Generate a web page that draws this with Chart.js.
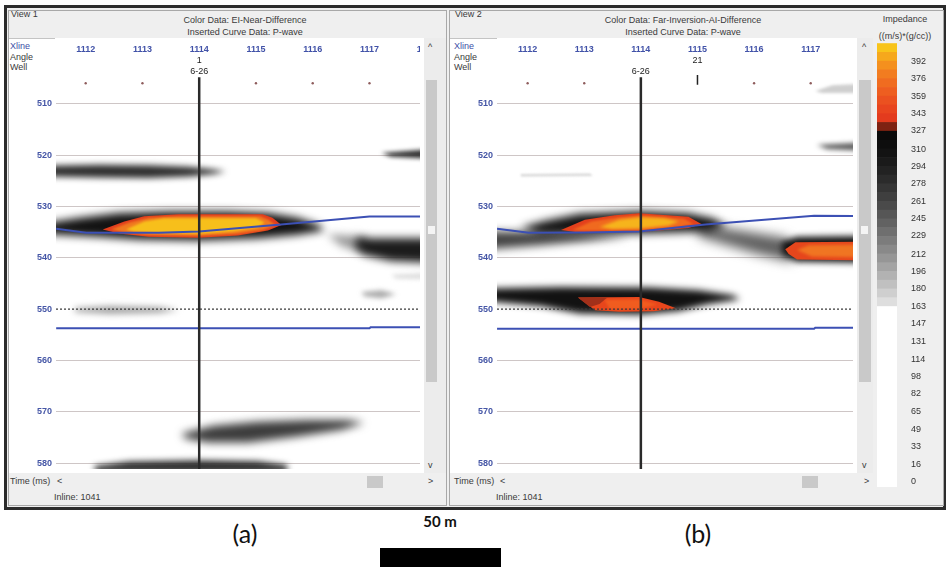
<!DOCTYPE html>
<html>
<head>
<meta charset="utf-8">
<title>Impedance difference sections</title>
<script src="https://cdn.jsdelivr.net/npm/chart.js@4.4.1/dist/chart.umd.min.js"></script>
<style>
  body { margin: 0; width: 951px; height: 567px; background: #fff; position: relative; overflow: hidden;
         font-family: "Liberation Sans", Arial, sans-serif; }
  .box { position: absolute; box-sizing: border-box; }
  .ui { position: absolute; font-size: 9px; line-height: 11px; color: #3a3a3a; white-space: nowrap; }
  .c { text-align: center; }
  .blue { color: #3e4fa6; }
  canvas { position: absolute; }
  .cap { position: absolute; font-family: Lato, "Open Sans", sans-serif; color: #111; }
</style>
</head>
<body>
<!-- window frame -->
<div class="box" style="left:4px;top:5px;width:942px;height:505px;border:3px solid #2c2c2c;background:#efefef"></div>
<div class="box" style="left:8px;top:10px;width:439px;height:496px;border:1px solid #a8a8a8"></div>
<div class="box" style="left:449px;top:10px;width:495px;height:496px;border:1px solid #a8a8a8"></div>

<!-- view 1 -->
<div class="box" style="left:9px;top:38px;width:415px;height:435px;background:#fff"></div>
<div class="box" style="left:9px;top:38px;width:46px;height:1px;background:#c4c4c4"></div>
<div class="box" style="left:424px;top:38px;width:22px;height:435px;background:#ececec"></div>
<div class="box" style="left:426px;top:80px;width:11px;height:302px;background:#c9c9c9"></div>
<div class="box" style="left:428px;top:226px;width:7px;height:8px;background:#f4f4f4"></div>
<div class="box" style="left:367px;top:476px;width:16px;height:12px;background:#c9c9c9"></div>
<div class="ui" style="left:11px;top:8.5px">View 1</div>
<div class="ui c" style="left:145px;top:14.5px;width:200px">Color Data: EI-Near-Difference</div>
<div class="ui c" style="left:145px;top:26.5px;width:200px">Inserted Curve Data: P-wave</div>
<div class="ui blue" style="left:10px;top:40.5px">Xline</div>
<div class="ui" style="left:10px;top:51.5px">Angle</div>
<div class="ui" style="left:10px;top:61.5px">Well</div>
<div class="ui" style="left:428px;top:42px">^</div>
<div class="ui" style="left:428px;top:460px">v</div>
<div class="ui" style="left:10px;top:476px">Time (ms)</div>
<div class="ui" style="left:57px;top:476px">&lt;</div>
<div class="ui" style="left:428px;top:476px">&gt;</div>
<div class="ui" style="left:54px;top:491.5px">Inline: 1041</div>
<canvas id="viewA" width="408" height="435" style="left:16px;top:38px"></canvas>

<!-- view 2 -->
<div class="box" style="left:450px;top:38px;width:407px;height:435px;background:#fff"></div>
<div class="box" style="left:450px;top:38px;width:47px;height:1px;background:#c4c4c4"></div>
<div class="box" style="left:857px;top:38px;width:16px;height:435px;background:#ececec"></div>
<div class="box" style="left:859px;top:80px;width:12px;height:302px;background:#c9c9c9"></div>
<div class="box" style="left:861px;top:226px;width:7px;height:8px;background:#f4f4f4"></div>
<div class="box" style="left:802px;top:476px;width:16px;height:12px;background:#c9c9c9"></div>
<div class="ui" style="left:455px;top:8.5px">View 2</div>
<div class="ui c" style="left:583px;top:14.5px;width:200px">Color Data: Far-Inversion-AI-Difference</div>
<div class="ui c" style="left:583px;top:26.5px;width:200px">Inserted Curve Data: P-wave</div>
<div class="ui blue" style="left:454px;top:40.5px">Xline</div>
<div class="ui" style="left:454px;top:51.5px">Angle</div>
<div class="ui" style="left:454px;top:61.5px">Well</div>
<div class="ui" style="left:862px;top:42px">^</div>
<div class="ui" style="left:862px;top:460px">v</div>
<div class="ui" style="left:454px;top:476px">Time (ms)</div>
<div class="ui" style="left:500px;top:476px">&lt;</div>
<div class="ui" style="left:864px;top:476px">&gt;</div>
<div class="ui" style="left:496px;top:491.5px">Inline: 1041</div>
<canvas id="viewB" width="400" height="435" style="left:457px;top:38px"></canvas>

<!-- colour scale -->
<div class="ui c" style="left:865px;top:14px;width:80px">Impedance</div>
<div class="ui c" style="left:865px;top:30.5px;width:80px">((m/s)*(g/cc))</div>
<canvas id="scaleBar" width="50" height="444" style="left:877px;top:43px"></canvas>

<!-- captions -->
<div class="cap" style="left:205px;top:518px;width:80px;text-align:center;font-size:25px">(a)</div>
<div class="cap" style="left:658px;top:518px;width:80px;text-align:center;font-size:25px">(b)</div>
<div class="cap" style="left:400px;top:512px;width:80px;text-align:center;font-size:15px;font-weight:bold">50 m</div>
<div class="box" style="left:380px;top:548px;width:121px;height:19px;background:#000"></div>

<script>
Chart.defaults.font.family = '"Liberation Sans", Arial, sans-serif';

// axes
const timeTicks = [510, 520, 530, 540, 550, 560, 570, 580];
const xlineTicks = [1112, 1113, 1114, 1115, 1116, 1117, 1118];
const traceDotsA = [1112, 1113, 1115, 1116, 1117];
const traceDotsB = [1112, 1113, 1116, 1117];
const wellXline = 1114;
const wellName = '6-26';
const wellTopTime = 504.8;
const xlineRowTime = 499.5, angleRowTime = 501.6, wellRowTime = 503.7, dotRowTime = 506;

// horizons picked on both views (xline, ms)
const a_horizonTop = [[1111.48, 534.34], [1112.01, 535.1], [1113.29, 535.1], [1114.0, 534.86], [1115.44, 533.52], [1117.0, 531.93], [1117.9, 531.93]];
const a_horizonBase = [[1111.48, 553.7], [1117.0, 553.7], [1117.02, 553.5], [1117.9, 553.5]];
const b_horizonTop = [[1111.46, 534.34], [1112.02, 535.1], [1113.0, 535.05], [1113.97, 534.86], [1115.14, 533.52], [1117.06, 531.8], [1117.75, 531.85]];
const b_horizonBase = [[1111.46, 553.8], [1117.06, 553.8], [1117.08, 553.6], [1117.75, 553.6]];

// view 1 anomalies, outlines in (xline, ms)
const a_band523 = [[1111.3, 522.05], [1112.24, 521.85], [1113.11, 521.95], [1113.81, 522.24], [1114.25, 522.81], [1114.47, 523.19],
  [1114.25, 523.67], [1113.81, 524.15], [1113.11, 524.44], [1112.24, 524.34], [1111.3, 524.15]];
const a_mainHalo = [[1111.3, 533.2], [1111.9, 532.2], [1112.59, 531.25], [1113.46, 530.95], [1114.51, 530.95], [1115.21, 531.25],
  [1115.73, 532.2], [1116.11, 533.6], [1116.2, 534.66], [1115.73, 535.5], [1115.03, 536.2], [1113.99, 536.6],
  [1112.94, 536.4], [1112.24, 535.9], [1111.3, 535.35]];
const a_mainRed = [[1112.3, 534.47], [1112.68, 532.94], [1113.03, 531.89], [1113.64, 531.51], [1115.12, 531.51], [1115.29, 532.18],
  [1115.45, 533.61], [1115.21, 534.66], [1114.68, 535.62], [1113.99, 536.1], [1113.11, 535.91], [1112.59, 535.24]];
const a_mainOrange = [[1112.45, 534.47], [1112.77, 533.13], [1113.11, 532.18], [1113.64, 531.89], [1115.07, 531.89], [1115.22, 532.56],
  [1115.34, 533.61], [1115.12, 534.57], [1114.65, 535.33], [1113.99, 535.72], [1113.11, 535.53], [1112.68, 535.05]];
const a_mainYellow = [[1112.71, 534.47], [1113.03, 532.94], [1113.38, 532.27], [1115.0, 532.27], [1115.15, 533.13], [1115.03, 534.09],
  [1114.6, 534.86], [1113.99, 535.33], [1113.2, 535.14], [1112.85, 534.86]];
const a_eastTail = [[1116.25, 535.43], [1116.95, 535.81], [1116.95, 539.25], [1116.51, 537.72]];
const a_eastCore = [[1116.77, 536.19], [1118.1, 536.19], [1118.1, 540.97], [1117.38, 540.59], [1116.91, 539.44], [1116.74, 537.72]];
const a_east519 = [[1117.21, 519.56], [1118.1, 518.8], [1118.1, 520.71], [1117.38, 520.32]];
const a_spot547 = [[1116.86, 546.71], [1117.21, 546.33], [1117.47, 547.09], [1117.21, 547.86], [1116.91, 547.48]];
const a_spot543 = [[1117.38, 543.27], [1118.1, 542.89], [1118.1, 544.22], [1117.47, 544.03]];
const a_smear550 = [[1111.81, 549.77], [1112.42, 549.39], [1113.29, 549.58], [1113.64, 550.15], [1113.29, 550.73], [1112.42, 550.92], [1111.81, 550.54]];
const a_band574 = [[1113.69, 574.24], [1114.25, 572.71], [1115.03, 571.95], [1115.9, 571.57], [1116.6, 571.57], [1116.91, 572.14],
  [1116.51, 573.48], [1115.73, 574.82], [1114.86, 575.96], [1114.16, 575.96], [1113.76, 575.2]];
const a_band580 = [[1112.16, 580.55], [1112.77, 579.69], [1113.99, 579.41], [1115.03, 579.6], [1115.55, 580.36], [1115.55, 581.7], [1112.16, 581.7]];

// view 2 anomalies
const b_mainHalo = [[1111.88, 534.09], [1112.31, 532.75], [1112.92, 531.41], [1113.97, 530.94], [1114.84, 531.32], [1115.28, 532.37],
  [1115.51, 533.9], [1115.19, 534.86], [1113.97, 535.24], [1112.92, 535.43], [1112.23, 535.33]];
const b_westBand = [[1111.3, 534.86], [1112.23, 534.86], [1113.1, 535.43], [1113.8, 535.91], [1113.1, 536.67], [1112.23, 537.53], [1111.3, 538.3]];
const b_link = [[1115.02, 533.52], [1115.72, 534.66], [1116.59, 536.19], [1116.68, 540.78], [1116.07, 539.25], [1115.37, 536.96], [1115.02, 535.81]];
const b_mainRed = [[1112.59, 534.57], [1113.01, 532.56], [1113.54, 531.7], [1113.97, 531.32], [1114.84, 531.99], [1115.07, 533.42],
  [1114.84, 534.19], [1114.32, 534.66], [1113.97, 534.95], [1113.27, 535.05], [1112.84, 534.95]];
const b_mainOrange = [[1112.79, 534.57], [1113.13, 532.94], [1113.62, 532.08], [1113.97, 531.79], [1114.76, 532.37], [1114.93, 533.42],
  [1114.67, 533.99], [1113.97, 534.57], [1113.27, 534.66], [1112.96, 534.66]];
const b_mainYellow = [[1113.27, 533.99], [1113.62, 532.56], [1113.97, 532.08], [1114.41, 532.27], [1114.67, 532.94], [1114.49, 533.71],
  [1113.97, 534.28], [1113.49, 534.38]];
const b_eastHalo = [[1116.47, 536.96], [1116.76, 535.91], [1118.1, 535.72], [1118.1, 540.97], [1116.76, 540.78], [1116.5, 539.44]];
const b_eastRed = [[1116.55, 538.3], [1116.73, 536.96], [1118.1, 536.86], [1118.1, 540.5], [1116.76, 540.31], [1116.61, 539.25]];
const b_eastOrange = [[1116.76, 538.49], [1116.97, 537.53], [1118.1, 537.44], [1118.1, 539.92], [1117.02, 539.73]];
const b_lowHalo = [[1111.3, 545.95], [1112.58, 545.66], [1114.15, 545.75], [1115.02, 546.33], [1115.63, 547.28], [1115.75, 548.05],
  [1115.19, 549.01], [1114.67, 550.34], [1113.97, 551.01], [1112.92, 550.82], [1112.23, 549.39], [1111.3, 548.43]];
const b_lowRed = [[1112.89, 547.7], [1113.97, 547.6], [1114.32, 548.55], [1114.62, 549.8], [1114.23, 550.4], [1113.62, 550.5], [1113.19, 550.2]];
const b_lowDark = [[1112.89, 547.7], [1113.41, 547.7], [1113.27, 549.01], [1113.1, 549.58]];
const b_lowOrange = [[1113.36, 548.2], [1113.97, 548.1], [1114.29, 549.1], [1113.97, 549.95], [1113.45, 549.95]];
const b_east518 = [[1117.11, 518.03], [1118.1, 517.46], [1118.1, 519.18], [1117.29, 518.8]];
const b_streak524 = [[1111.88, 523.67], [1113.1, 523.58], [1113.15, 524.05], [1111.88, 524.15]];
const b_east507 = [[1117.08, 507.51], [1117.38, 506.37], [1118.1, 505.98], [1118.1, 507.9], [1117.2, 507.9]];
const b_angleTick = [[1115, 504.4], [1115, 506.3]];

// impedance colour scale
const impedanceLabels = [0, 16, 33, 49, 65, 82, 98, 114, 131, 147, 163, 180, 196, 212, 229, 245, 261, 278, 294, 310, 327, 343, 359, 376, 392];
const impedanceEdges = [-5, 163.3, 171.5, 179.6, 187.8, 196.0, 204.1, 212.3, 220.5, 228.6, 236.8, 245.0, 253.1, 261.3, 269.4, 277.6,
  285.8, 293.9, 302.1, 310.3, 318.4, 326.6, 334.8, 342.9, 351.1, 359.3, 367.4, 375.6, 383.8, 391.9, 400.1, 408.3];
const impedanceColors = ['#ffffff',
  '#dedede', '#cfcfcf', '#c0c0c0', '#b2b2b2', '#a4a4a4', '#969696', '#898989', '#7c7c7c', '#6f6f6f', '#626262',
  '#565656', '#4a4a4a', '#3f3f3f', '#353535', '#2b2b2b', '#222222', '#1a1a1a', '#131313', '#0e0e0e', '#0a0a0a',
  '#7e2212', '#e33b1e', '#e8451f', '#eb5120', '#ee5e20', '#f06c20', '#f27c20', '#f4901e', '#f6a81c', '#f8c41a'];

// layer lists: outline, fill, blur radius (px)
const view1Layers = [
  [a_band523, '#2e2e2e', 3],
  [a_smear550, '#a2a2a2', 3],
  [a_spot543, '#dddddd', 2],
  [a_spot547, '#aaaaaa', 2.5],
  [a_east519, '#333333', 2],
  [a_eastTail, '#9a9a9a', 4],
  [a_eastCore, '#1c1c1c', 4],
  [a_band574, '#3c3c3c', 4],
  [a_band580, '#2a2a2a', 3],
  [a_mainHalo, '#121212', 4.5],
  [a_mainRed, '#e23e1d', 0.6],
  [a_mainOrange, '#f07a20', 0.8],
  [a_mainYellow, '#f7bf1b', 1.2]
];
const view2Layers = [
  [b_east507, '#cfcfcf', 1.5],
  [b_streak524, '#d8d8d8', 1],
  [b_east518, '#555555', 2.5],
  [b_westBand, '#444444', 4.5],
  [b_link, '#5e5e5e', 6],
  [b_mainHalo, '#121212', 4],
  [b_eastHalo, '#121212', 3],
  [b_lowHalo, '#121212', 3.5],
  [b_mainRed, '#e4401c', 0.6],
  [b_mainOrange, '#f06a1f', 0.8],
  [b_mainYellow, '#f6b41c', 1.5],
  [b_eastRed, '#e6461c', 0.6],
  [b_eastOrange, '#f07522', 1.5],
  [b_lowRed, '#e8461c', 0.6],
  [b_lowDark, '#a2301a', 0.6],
  [b_lowOrange, '#f05c1f', 1]
];

const toPts = arr => arr.map(([x, y]) => ({ x, y }));

// fills each outline dataset with an optional gaussian blur, clipped to the section
const blobPaint = {
  id: 'blobPaint',
  beforeDatasetDraw(chart, args) {
    const ds = chart.data.datasets[args.index];
    if (!ds.paint) return;
    const { ctx, chartArea: a } = chart;
    const pts = args.meta.data;
    ctx.save();
    ctx.beginPath();
    ctx.rect(a.left, a.top, a.right - a.left, a.bottom - a.top);
    ctx.clip();
    ctx.filter = ds.blur ? 'blur(' + ds.blur + 'px)' : 'none';
    ctx.fillStyle = ds.paint;
    ctx.beginPath();
    pts.forEach((p, i) => (i ? ctx.lineTo(p.x, p.y) : ctx.moveTo(p.x, p.y)));
    ctx.closePath();
    ctx.fill();
    ctx.restore();
  }
};

// xline numbers, angle and well name rows along the top of a section
const headerRows = {
  id: 'headerRows',
  afterDatasetsDraw(chart, args, opts) {
    const { ctx, chartArea: a, scales: { x, y } } = chart;
    ctx.save();
    ctx.beginPath();
    ctx.rect(a.left, a.top, a.right - a.left, a.bottom - a.top);
    ctx.clip();
    ctx.textAlign = 'center';
    ctx.textBaseline = 'middle';
    ctx.font = 'bold 9px "Liberation Sans", Arial, sans-serif';
    ctx.fillStyle = '#4152a8';
    xlineTicks.forEach(v => ctx.fillText(String(v), x.getPixelForValue(v), y.getPixelForValue(xlineRowTime)));
    ctx.font = '9px "Liberation Sans", Arial, sans-serif';
    ctx.fillStyle = '#222';
    ctx.fillText(opts.angle, x.getPixelForValue(opts.angleAt), y.getPixelForValue(angleRowTime));
    ctx.fillText(wellName, x.getPixelForValue(wellXline), y.getPixelForValue(wellRowTime));
    ctx.restore();
  }
};

function buildView(id, cfg) {
  const datasets = [];
  cfg.layers.forEach(([pts, paint, blur]) => {
    datasets.push({ data: toPts(pts), paint, blur, showLine: false, pointRadius: 0 });
  });
  datasets.push({ data: toPts([[cfg.xMin, 550], [cfg.xMax, 550]]), borderColor: '#3a3a3a', borderWidth: 1.3, borderDash: [2, 2], pointRadius: 0 });
  cfg.horizons.forEach(h => datasets.push({ data: toPts(h), borderColor: '#3c50b4', borderWidth: 2, pointRadius: 0 }));
  datasets.push({ data: toPts([[wellXline, wellTopTime], [wellXline, 581.5]]), borderColor: '#2a2a2a', borderWidth: 2.5, pointRadius: 0 });
  (cfg.ticksExtra || []).forEach(t => datasets.push({ data: toPts(t), borderColor: '#222', borderWidth: 1.5, pointRadius: 0 }));
  datasets.push({
    data: cfg.dots.map(x => ({ x, y: dotRowTime })), showLine: false,
    pointRadius: 1.2, pointBackgroundColor: '#8e5c5c', pointBorderWidth: 0
  });
  datasets.forEach((d, i) => { d.order = -i; d.fill = false; });

  return new Chart(document.getElementById(id), {
    type: 'line',
    data: { datasets },
    options: {
      responsive: false,
      animation: false,
      devicePixelRatio: 1,
      events: [],
      layout: { padding: 0 },
      plugins: {
        legend: { display: false },
        tooltip: { enabled: false },
        headerRows: { angle: cfg.angle, angleAt: cfg.angleAt }
      },
      scales: {
        x: { type: 'linear', display: false, min: cfg.xMin, max: cfg.xMax },
        y: {
          type: 'linear', reverse: true, min: 497.95, max: 581.13,
          afterBuildTicks: s => { s.ticks = timeTicks.map(v => ({ value: v })); },
          afterFit: s => { s.width = 40; s.paddingTop = 0; s.paddingBottom = 0; },
          ticks: { color: '#4556a6', font: { size: 9, weight: 'bold' }, padding: 4 },
          grid: {
            color: c => (c.tick && c.tick.value === 550 ? 'rgba(0,0,0,0)' : '#cec6c6'),
            drawTicks: false, lineWidth: 1
          },
          border: { display: false }
        }
      }
    },
    plugins: [blobPaint, headerRows]
  });
}

buildView('viewA', {
  layers: view1Layers, horizons: [a_horizonTop, a_horizonBase], dots: traceDotsA,
  xMin: 1111.477, xMax: 1117.89, angle: '1', angleAt: 1114
});
buildView('viewB', {
  layers: view2Layers, horizons: [b_horizonTop, b_horizonBase], dots: traceDotsB, ticksExtra: [b_angleTick],
  xMin: 1111.459, xMax: 1117.747, angle: '21', angleAt: 1115
});

// colour bar as floating bar segments
new Chart(document.getElementById('scaleBar'), {
  type: 'bar',
  data: {
    labels: [''],
    datasets: impedanceColors.map((col, i) => ({
      data: [[impedanceEdges[i], impedanceEdges[i + 1]]],
      backgroundColor: col, borderWidth: 0, barPercentage: 1, categoryPercentage: 1
    }))
  },
  options: {
    responsive: false,
    animation: false,
    devicePixelRatio: 1,
    events: [],
    layout: { padding: 0 },
    plugins: { legend: { display: false }, tooltip: { enabled: false } },
    scales: {
      x: { display: false, stacked: true },
      y: {
        position: 'right', min: -4.94, max: 408.8,
        afterBuildTicks: s => { s.ticks = impedanceLabels.map(v => ({ value: v })); },
        afterFit: s => { s.width = 30; s.paddingTop = 0; s.paddingBottom = 0; },
        ticks: { color: '#333', font: { size: 9 }, padding: 6 },
        grid: { display: false },
        border: { display: false }
      }
    }
  }
});
</script>
</body>
</html>
